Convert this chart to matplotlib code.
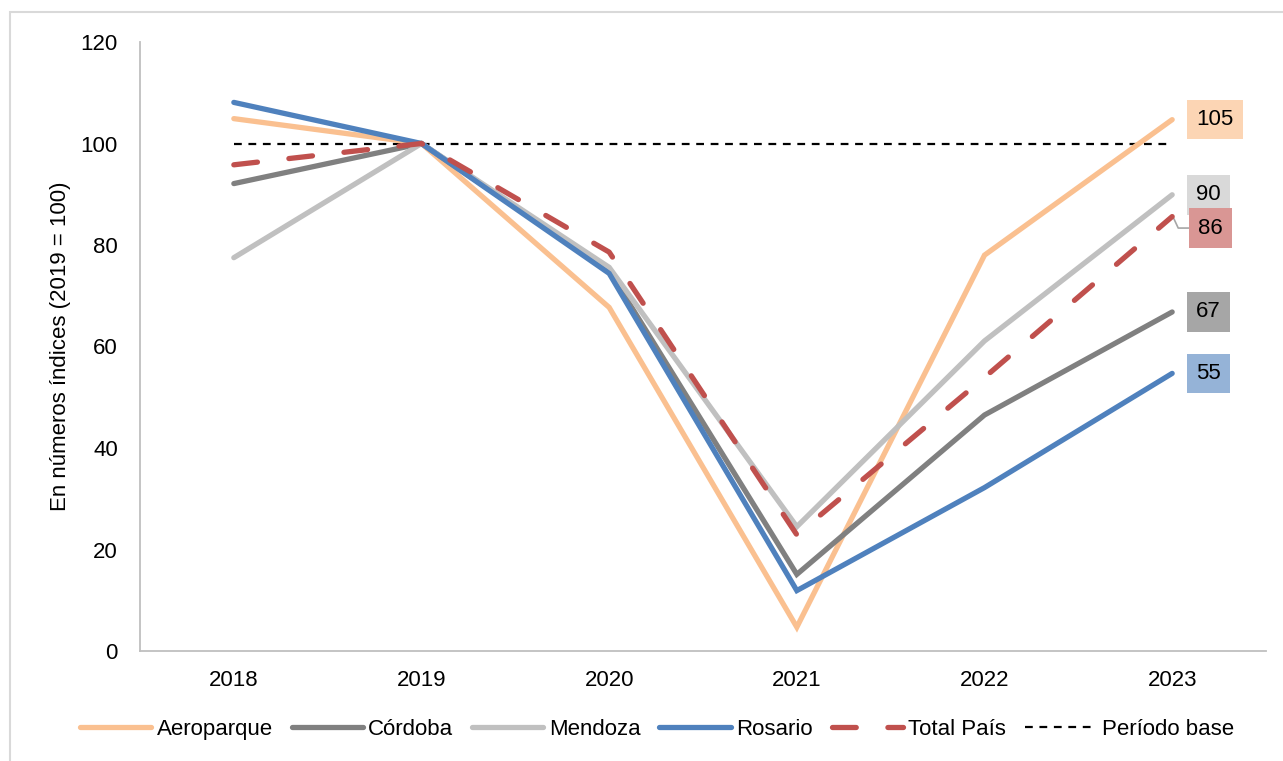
import matplotlib.pyplot as plt
from matplotlib.patches import Rectangle

plt.rcParams['font.family'] = ['Liberation Sans', 'DejaVu Sans']

years = ['2018', '2019', '2020', '2021', '2022', '2023']

aeroparque = [104.9, 100, 67.7, 4.7, 78.0, 104.7]
cordoba = [92.1, 100, 74.9, 15.1, 46.5, 66.8]
mendoza = [77.5, 100, 75.6, 24.5, 61.1, 89.9]
rosario = [108.1, 100, 74.4, 11.9, 32.2, 54.7]
total_pais = [95.8, 100, 78.6, 22.9, 53.9, 85.6]
base = [100, 100, 100, 100, 100, 100]

series = [
    ('Aeroparque', aeroparque, '#FAC090', '#FCD5B4'),
    ('Córdoba', cordoba, '#808080', '#A6A6A6'),
    ('Mendoza', mendoza, '#C0C0C0', '#D9D9D9'),
    ('Rosario', rosario, '#4F81BD', '#95B3D7'),
]

fig = plt.figure(figsize=(12.83, 7.61), dpi=100)
ax = fig.add_axes([140 / 1283, 1 - 651 / 761, 1126 / 1283, 609 / 761])

x = list(range(len(years)))
lines = []
for name, vals, col, _ in series:
    ln, = ax.plot(x, vals, color=col, lw=3.8, solid_capstyle='round',
                  solid_joinstyle='miter', label=name, zorder=3)
    lines.append(ln)

ln_tot, = ax.plot(x, total_pais, color='#C0504D', lw=3.8, ls=(0, (4.5, 6)),
                  dash_capstyle='round', label='Total País', zorder=4)
ln_base, = ax.plot(x, base, color='black', lw=1.6, ls=(0, (3.5, 3)),
                   label='Período base', zorder=2)

# etiquetas al final de cada serie
for name, vals, col, boxcol in series:
    ax.annotate(f'{vals[-1]:.0f}', xy=(x[-1], vals[-1]),
                xytext=(24, 0), textcoords='offset pixels',
                ha='left', va='center', fontsize=16,
                bbox=dict(boxstyle='square,pad=0.42', fc=boxcol, ec='none'))

ax.annotate(f'{total_pais[-1]:.0f}', xy=(x[-1], total_pais[-1] + 0.3),
            xytext=(26, -13), textcoords='offset pixels',
            ha='left', va='center', fontsize=16,
            bbox=dict(boxstyle='square,pad=0.42', fc='#D99694', ec='none'),
            arrowprops=dict(arrowstyle='-', color='#A6A6A6', lw=1.2,
                            shrinkA=0, shrinkB=1,
                            connectionstyle='angle,angleA=0,angleB=115,rad=0'))

ax.set_xlim(-0.5, len(years) - 0.5)
ax.set_ylim(0, 120)
ax.set_yticks(range(0, 121, 20))
ax.set_xticks(x)
ax.set_xticklabels(years)
ax.tick_params(axis='both', length=0, labelsize=16)
ax.tick_params(axis='y', pad=16)
ax.tick_params(axis='x', pad=14)
ax.set_ylabel('En números índices (2019 = 100)', fontsize=16, labelpad=7)

for side in ['top', 'right']:
    ax.spines[side].set_visible(False)
for side in ['left', 'bottom']:
    ax.spines[side].set_color('#BFBFBF')
    ax.spines[side].set_linewidth(1.3)

fig.legend(handles=lines + [ln_tot, ln_base], loc='center',
           bbox_to_anchor=(0.512, 0.042), ncol=6, frameon=False,
           fontsize=16, handlelength=3.2, handletextpad=0.25,
           columnspacing=0.85)

# marco exterior
fig.patches.append(Rectangle((10 / 1283, -0.1), 1.1, 1.1 - 12 / 761,
                             transform=fig.transFigure, fill=False,
                             ec='#D9D9D9', lw=1.5, zorder=0))

fig.savefig('out.png', dpi=100)
